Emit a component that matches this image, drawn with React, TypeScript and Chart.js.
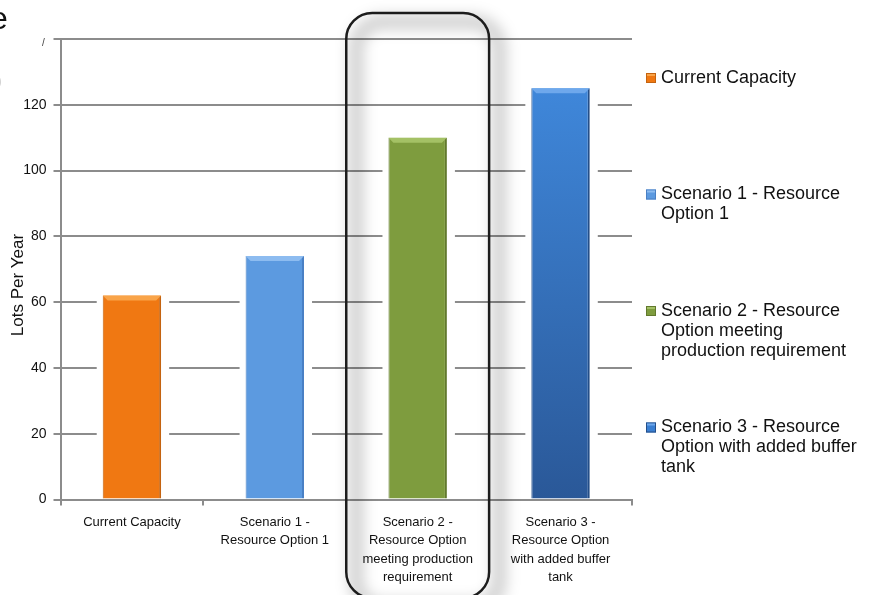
import React, { useEffect, useRef } from "react";
import { Chart, registerables } from "chart.js";

Chart.register(...registerables);

const categories: string[][] = [
  ["Current Capacity"],
  ["Scenario 1 -", "Resource Option 1"],
  ["Scenario 2 -", "Resource Option", "meeting production", "requirement"],
  ["Scenario 3 -", "Resource Option", "with added buffer", "tank"],
];
const values: number[] = [62, 74, 110, 125];
const legendLabels: string[][] = [
  ["Current Capacity"],
  ["Scenario 1 - Resource", "Option 1"],
  ["Scenario 2 - Resource", "Option meeting", "production requirement"],
  ["Scenario 3 - Resource", "Option with added buffer", "tank"],
];
const yMin = 0;
const yMax = 140;
const yStep = 20;
const hiddenTickLabels: number[] = [140];
const axisTitle = "Lots Per Year";
const highlightedIndex = 2;

const mainColors = ["#F07812", "#5C9AE0", "#7E9C3E", "#3A7FD2"];
const lightColors = ["#F9A449", "#8DBCF0", "#A4C165", "#6EA8EC"];
const edgeColors = ["#C4630F", "#4A80C4", "#62792D", "#244E88"];
const FONT = "'Liberation Sans', Arial, sans-serif";

function roundRectPath(ctx: CanvasRenderingContext2D, x: number, y: number, w: number, h: number, r: number) {
  ctx.beginPath();
  ctx.moveTo(x + r, y);
  ctx.lineTo(x + w - r, y);
  ctx.arcTo(x + w, y, x + w, y + r, r);
  ctx.lineTo(x + w, y + h - r);
  ctx.arcTo(x + w, y + h, x + w - r, y + h, r);
  ctx.lineTo(x + r, y + h);
  ctx.arcTo(x, y + h, x, y + h - r, r);
  ctx.lineTo(x, y + r);
  ctx.arcTo(x, y, x + r, y, r);
  ctx.closePath();
}

const decor = {
  id: "decor",
  beforeDatasetsDraw(chart: any) {
    const ctx = chart.ctx as CanvasRenderingContext2D;
    const meta = chart.getDatasetMeta(0);
    ctx.save();
    ctx.fillStyle = "#ffffff";
    meta.data.forEach((bar: any) => {
      const { x, y, base, width } = bar.getProps(["x", "y", "base", "width"], true);
      ctx.fillRect(x - width / 2 - 6, y, width + 14, base - y - 1.5);
    });
    ctx.restore();
  },
  afterDatasetsDraw(chart: any) {
    const ctx = chart.ctx as CanvasRenderingContext2D;
    const meta = chart.getDatasetMeta(0);
    ctx.save();
    meta.data.forEach((bar: any, i: number) => {
      const { x, y, width } = bar.getProps(["x", "y", "width"], true);
      const l = x - width / 2;
      const r = x + width / 2;
      ctx.fillStyle = lightColors[i];
      ctx.beginPath();
      ctx.moveTo(l, y);
      ctx.lineTo(r, y);
      ctx.lineTo(r - 5, y + 5);
      ctx.lineTo(l + 5, y + 5);
      ctx.closePath();
      ctx.fill();
    });
    // highlight rounded rectangle around category
    const xs = chart.scales.x;
    const area = chart.chartArea;
    const catW = (area.right - area.left) / categories.length;
    const cx = xs.getPixelForValue(highlightedIndex);
    const rx = cx - catW / 2;
    const ry = 13;
    const rh = 598 - ry;
    ctx.save();
    ctx.filter = "blur(7px)";
    ctx.strokeStyle = "rgba(0,0,0,0.18)";
    ctx.lineWidth = 15;
    roundRectPath(ctx, rx + 10, ry + 9, catW, rh, 26);
    ctx.stroke();
    ctx.restore();
    ctx.strokeStyle = "#1c1c1c";
    ctx.lineWidth = 2.5;
    roundRectPath(ctx, rx, ry, catW, rh, 26);
    ctx.stroke();
    ctx.restore();
  },
  afterDraw(chart: any) {
    const ctx = chart.ctx as CanvasRenderingContext2D;
    ctx.save();
    // legend
    ctx.font = `18px ${FONT}`;
    ctx.textBaseline = "middle";
    ctx.textAlign = "left";
    legendLabels.forEach((lines, i) => {
      const y0 = 78 + i * 116.5;
      ctx.fillStyle = mainColors[i];
      ctx.fillRect(646, y0 - 5, 10, 10);
      ctx.strokeStyle = edgeColors[i];
      ctx.lineWidth = 1;
      ctx.strokeRect(646.5, y0 - 4.5, 9, 9);
      ctx.fillStyle = lightColors[i];
      ctx.fillRect(647, y0 - 4, 8, 2);
      ctx.fillStyle = "#111111";
      lines.forEach((t, j) => ctx.fillText(t, 661, y0 + j * 20));
    });
    // y axis title
    ctx.save();
    ctx.translate(18, 285);
    ctx.rotate(-Math.PI / 2);
    ctx.textAlign = "center";
    ctx.font = `17px ${FONT}`;
    ctx.fillStyle = "#111111";
    ctx.fillText(axisTitle, 0, 0);
    ctx.restore();
    // cropped fragments at edges
    ctx.textBaseline = "alphabetic";
    ctx.fillStyle = "#111111";
    ctx.font = `32px ${FONT}`;
    ctx.fillText("e", -10, 29);
    ctx.fillStyle = "#c8c8c8";
    ctx.font = `14px ${FONT}`;
    ctx.fillText(")", -3, 86);
    ctx.fillStyle = "#444444";
    ctx.font = `10px ${FONT}`;
    ctx.fillText("/", 42, 46);
    ctx.restore();
  },
};

export default function App() {
  const ref = useRef<HTMLCanvasElement | null>(null);
  useEffect(() => {
    document.body.style.margin = "0";
    const canvas = ref.current;
    if (!canvas) return;
    const chart = new Chart(canvas, {
      type: "bar",
      data: {
        labels: categories,
        datasets: [
          {
            data: values,
            backgroundColor: (c: any) => {
              const i = c.dataIndex;
              if (i === 3 && c.chart.chartArea) {
                const ys = c.chart.scales.y;
                const g = c.chart.ctx.createLinearGradient(0, ys.getPixelForValue(values[3]), 0, ys.getPixelForValue(0));
                g.addColorStop(0, "#3F87DA");
                g.addColorStop(1, "#2A5898");
                return g;
              }
              return mainColors[i];
            },
            borderColor: edgeColors,
            borderWidth: { left: 1, right: 2, top: 0, bottom: 0 },
            borderSkipped: false,
            categoryPercentage: 1,
            barPercentage: 0.409,
          },
        ],
      },
      options: {
        animation: false,
        responsive: false,
        devicePixelRatio: 1,
        layout: { padding: { top: 39, right: 246, left: 0, bottom: 0 } },
        plugins: { legend: { display: false }, tooltip: { enabled: false }, title: { display: false } },
        scales: {
          x: {
            grid: { drawOnChartArea: false, drawTicks: true, tickLength: 6, color: "#8c8c8c", lineWidth: 2 },
            border: { display: true, color: "#8c8c8c", width: 2 },
            ticks: { color: "#111111", font: { family: FONT, size: 13, lineHeight: 1.4 }, padding: 8, maxRotation: 0, autoSkip: false },
            afterFit: (s: any) => {
              s.height = 95.5;
            },
          },
          y: {
            min: yMin,
            max: yMax,
            grid: { color: "#8c8c8c", lineWidth: 2, tickLength: 7, drawTicks: true },
            border: { display: true, color: "#8c8c8c", width: 2 },
            ticks: {
              stepSize: yStep,
              color: "#111111",
              font: { family: FONT, size: 14 },
              padding: 7,
              callback: (v: any) => (hiddenTickLabels.includes(Number(v)) ? "" : String(v)),
            },
            afterFit: (s: any) => {
              s.width = 60.5;
            },
          },
        },
      },
      plugins: [decor],
    } as any);
    return () => chart.destroy();
  }, []);
  return <canvas ref={ref} width={878} height={595} style={{ display: "block" }} />;
}
